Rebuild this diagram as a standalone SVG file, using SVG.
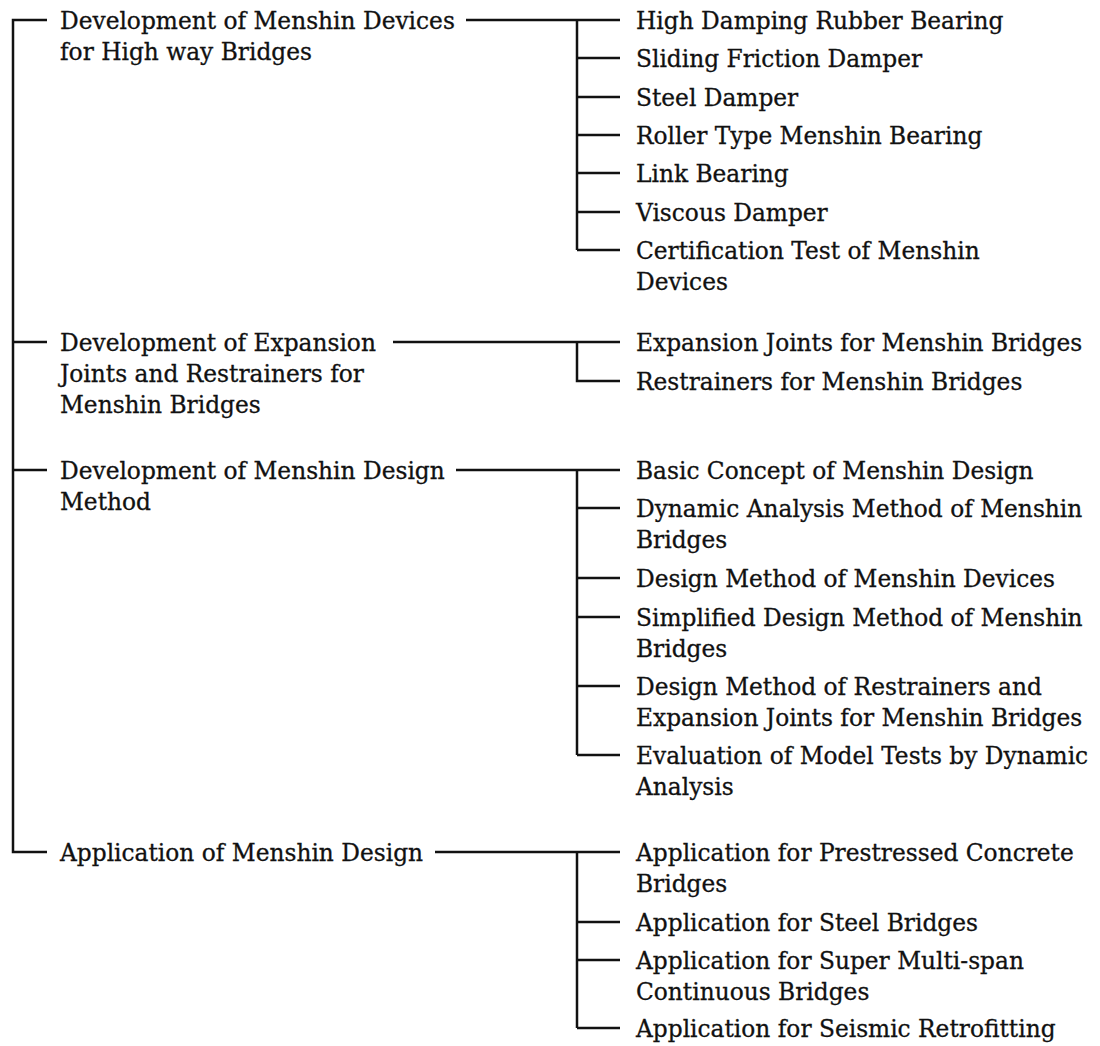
<svg xmlns="http://www.w3.org/2000/svg" width="1100" height="1046" viewBox="0 0 1100 1046">
<style>
text{font-family:"DejaVu Serif","Liberation Serif",serif;font-size:23.3px;fill:#111;stroke:#111;stroke-width:0.3}
.c{stroke:#111;stroke-width:2.5;fill:none}
</style>
<rect width="1100" height="1046" fill="#fff"/>
<g id="connectors" class="c">
<path d="M47,20 H13 V852 H47"/>
<path d="M13,342 H47 M13,470 H47"/>
<path d="M466,20 H620 M577,20 V250 M577,58 H620 M577,97 H620 M577,135 H620 M577,173 H620 M577,212 H620 M577,250 H620"/>
<path d="M393,342 H620 M577,342 V381 H620"/>
<path d="M456,470 H620 M577,470 V755 M577,508 H620 M577,578 H620 M577,617 H620 M577,686 H620 M577,755 H620"/>
<path d="M435,852 H620 M577,852 V1028 M577,922 H620 M577,960 H620 M577,1028 H620"/>
</g>
<g id="n1"><text x="60" y="29">Development of Menshin Devices</text><text x="60" y="60">for High way Bridges</text></g>
<g id="n2"><text x="60" y="351">Development of Expansion</text><text x="60" y="382">Joints and Restrainers for</text><text x="60" y="413">Menshin Bridges</text></g>
<g id="n3"><text x="60" y="479">Development of Menshin Design</text><text x="60" y="510">Method</text></g>
<g id="n4"><text x="60" y="861">Application of Menshin Design</text></g>
<g id="r1"><text x="636" y="29">High Damping Rubber Bearing</text></g>
<g id="r2"><text x="636" y="67">Sliding Friction Damper</text></g>
<g id="r3"><text x="636" y="106">Steel Damper</text></g>
<g id="r4"><text x="636" y="144">Roller Type Menshin Bearing</text></g>
<g id="r5"><text x="636" y="182">Link Bearing</text></g>
<g id="r6"><text x="636" y="221">Viscous Damper</text></g>
<g id="r7"><text x="636" y="259">Certification Test of Menshin</text><text x="636" y="290">Devices</text></g>
<g id="r8"><text x="636" y="351">Expansion Joints for Menshin Bridges</text></g>
<g id="r9"><text x="636" y="390">Restrainers for Menshin Bridges</text></g>
<g id="r10"><text x="636" y="479">Basic Concept of Menshin Design</text></g>
<g id="r11"><text x="636" y="517">Dynamic Analysis Method of Menshin</text><text x="636" y="548">Bridges</text></g>
<g id="r12"><text x="636" y="587">Design Method of Menshin Devices</text></g>
<g id="r13"><text x="636" y="626">Simplified Design Method of Menshin</text><text x="636" y="657">Bridges</text></g>
<g id="r14"><text x="636" y="695">Design Method of Restrainers and</text><text x="636" y="726">Expansion Joints for Menshin Bridges</text></g>
<g id="r15"><text x="636" y="764">Evaluation of Model Tests by Dynamic</text><text x="636" y="795">Analysis</text></g>
<g id="r16"><text x="636" y="861">Application for Prestressed Concrete</text><text x="636" y="892">Bridges</text></g>
<g id="r17"><text x="636" y="931">Application for Steel Bridges</text></g>
<g id="r18"><text x="636" y="969">Application for Super Multi-span</text><text x="636" y="1000">Continuous Bridges</text></g>
<g id="r19"><text x="636" y="1037">Application for Seismic Retrofitting</text></g>
</svg>
